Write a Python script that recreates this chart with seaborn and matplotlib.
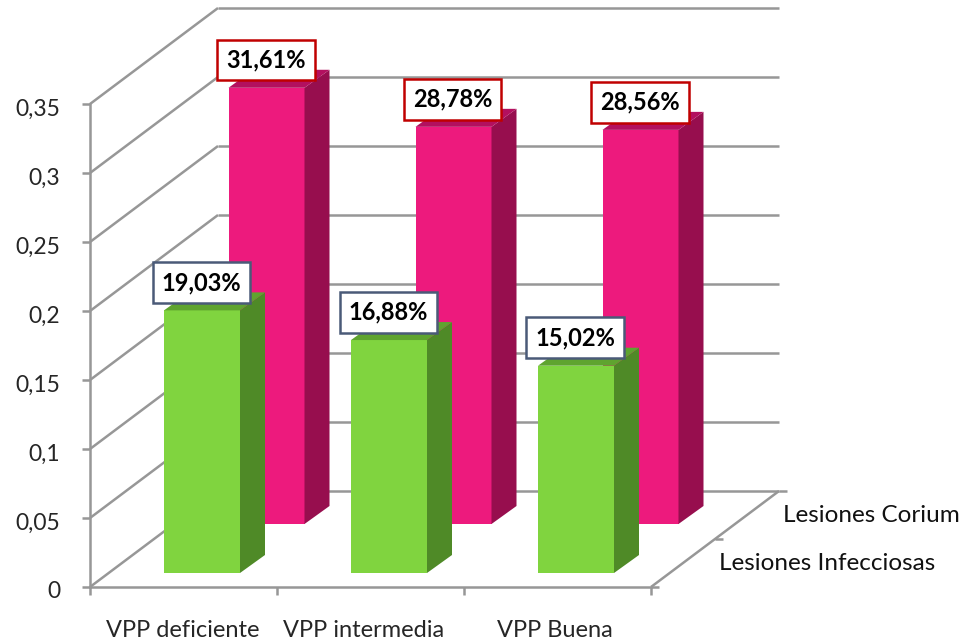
import matplotlib
matplotlib.use('Agg')
import matplotlib.pyplot as plt
import seaborn as sns
from matplotlib.patches import Polygon
from matplotlib.transforms import ScaledTranslation

categories = ['VPP deficiente', 'VPP intermedia', 'VPP Buena']
infecciosas = [0.1903, 0.1688, 0.1502]
corium = [0.3161, 0.2878, 0.2856]
infecciosas_labels = ['19,03%', '16,88%', '15,02%']
corium_labels = ['31,61%', '28,78%', '28,56%']
y_ticks = [0, 0.05, 0.1, 0.15, 0.2, 0.25, 0.3, 0.35]
y_tick_labels = ['0', '0,05', '0,1', '0,15', '0,2', '0,25', '0,3', '0,35']

W, H = 973, 641
GRAY = '#979797'
PX_X = 187.0    # pixels per category
PX_Y = 1380.0   # pixels per unit of value

sns.set_theme(style='white')
plt.rcParams['font.family'] = ['Lato', 'DejaVu Sans']
plt.rcParams['text.color'] = '#111111'


def add_axes(fig, dx=0, dy=0):
    # all axes share one size, the series axes are only shifted back in depth
    return fig.add_axes([(90 + dx) / W, (54 + dy) / H, 561 / W, 483 / H])


def draw_walls(ax):
    ax.set_xlim(-0.5, 2.5)
    ax.set_ylim(0, 0.35)
    sns.despine(ax=ax)
    for s in ['left', 'bottom']:
        ax.spines[s].set_color(GRAY)
        ax.spines[s].set_linewidth(1.8)

    ax.set_yticks(y_ticks)
    ax.set_yticklabels(y_tick_labels, fontsize=16.5)
    ax.tick_params(axis='y', left=True, length=6, width=1.8, color=GRAY, pad=15.5)
    shift = ScaledTranslation(0, -3 / 100, ax.figure.dpi_scale_trans)
    for t in ax.get_yticklabels():
        t.set_transform(t.get_transform() + shift)

    ax.set_xticks([-0.5, 0.5, 1.5, 2.5])
    ax.set_xticklabels([])
    ax.set_xticks([-0.005, 0.965, 1.985], labels=categories, minor=True, fontsize=17)
    ax.tick_params(axis='x', which='major', bottom=True, length=6, width=1.8, color=GRAY)
    ax.tick_params(axis='x', which='minor', bottom=False, length=0, pad=23.5)

    dx, dy = 128 / PX_X, 96 / PX_Y
    style = dict(color=GRAY, lw=1.8, clip_on=False, solid_capstyle='butt')
    for v in y_ticks:
        ax.plot([-0.5, -0.5 + dx], [v, v + dy], **style)
        ax.plot([-0.5 + dx, 2.5 + dx], [v + dy, v + dy], **style)

    # depth axis on the floor, with its ticks
    ax.plot([2.5, 2.5 + dx], [0, dy], **style)
    for f in [0, 0.5, 1]:
        x0, y0 = 2.5 + dx * f, dy * f
        ax.plot([x0, x0 + 8 / PX_X], [y0, y0], **style)


def draw_series(ax, values, labels, front, side, top, edge):
    sns.barplot(x=categories, y=values, color=front, saturation=1, width=76 / PX_X,
                linewidth=0, ax=ax)
    ax.set_xlim(-0.5, 2.5)
    ax.set_ylim(0, 0.35)
    ax.axis('off')

    dx, dy = 25 / PX_X, 18 / PX_Y
    for bar, label in zip(ax.patches, labels):
        x0, x1, v = bar.get_x(), bar.get_x() + bar.get_width(), bar.get_height()
        ax.add_patch(Polygon([(x1, 0), (x1 + dx, dy), (x1 + dx, v + dy), (x1, v)],
                             color=side, lw=0, clip_on=False))
        ax.add_patch(Polygon([(x0, v), (x0 + dx, v + dy), (x1 + dx, v + dy), (x1, v)],
                             color=top, lw=0, clip_on=False))
        ax.annotate(label, xy=((x0 + x1) / 2, v), xytext=(-0.5, 20), textcoords='offset points',
                    ha='center', va='center', fontsize=17, fontweight='bold', color='black',
                    annotation_clip=False, zorder=10,
                    bbox=dict(boxstyle='square,pad=0.38', fc='white', ec=edge, lw=1.8))


fig = plt.figure(figsize=(W / 100, H / 100), dpi=100)
fig.patch.set_facecolor('white')

ax_wall = add_axes(fig)
draw_walls(ax_wall)

ax_back = add_axes(fig, 83, 63)
draw_series(ax_back, corium, corium_labels, '#ed1a7d', '#970e4e', '#b3105f', '#c00000')

ax_front = add_axes(fig, 18.5, 14)
draw_series(ax_front, infecciosas, infecciosas_labels, '#80d43f', '#4f8a27', '#5fa42f', '#4a5a78')

fig.text(783 / W, 1 - 515 / H, 'Lesiones Corium', fontsize=17.5, va='center')
fig.text(719 / W, 1 - 563 / H, 'Lesiones Infecciosas', fontsize=17.5, va='center')

fig.savefig('out.png', dpi=100)
plt.close()
